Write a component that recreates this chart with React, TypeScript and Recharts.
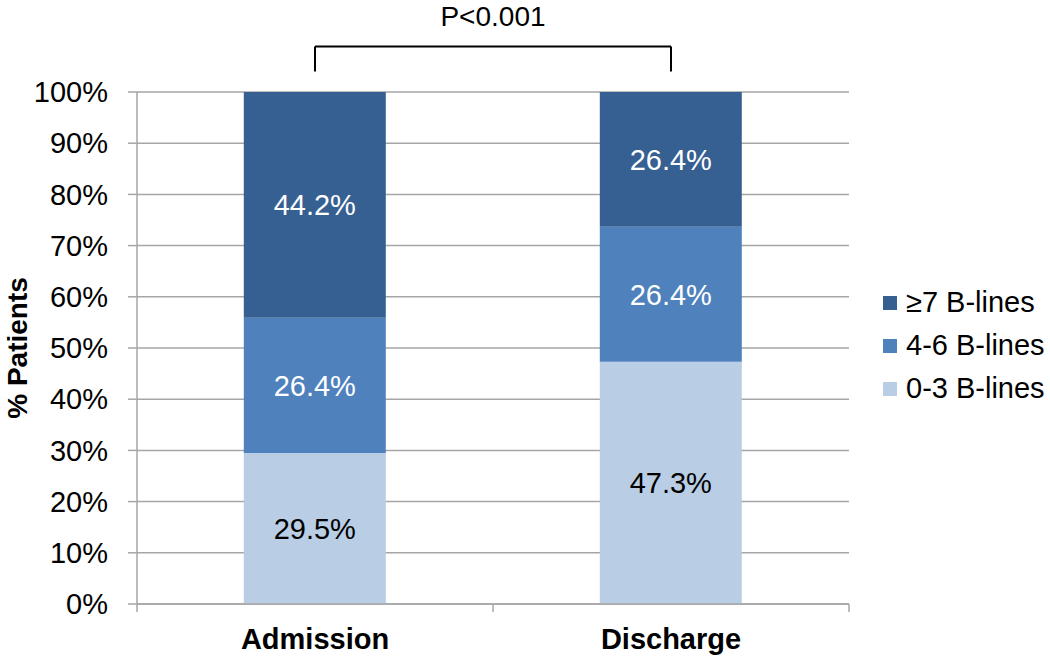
import React from 'react';
import { BarChart, Bar, XAxis, YAxis, CartesianGrid, ReferenceLine, LabelList, Label } from 'recharts';

const categories = ['Admission', 'Discharge'];
const lowValues = [29.5, 47.3];
const midValues = [26.4, 26.4];
const highValues = [44.2, 26.4];
const seriesNames = ['0-3 B-lines', '4-6 B-lines', '≥7 B-lines'];
const seriesKeys = ['low', 'mid', 'high'];
const seriesColors = ['#b9cde5', '#4f81bd', '#376092'];
const labelColors = ['#000000', '#ffffff', '#ffffff'];
const yTicks = [0, 10, 20, 30, 40, 50, 60, 70, 80, 90, 100];
const pValueText = 'P<0.001';
// bracket heights in axis units (drawn above the 100% line)
const bracketTop = 108.9;
const bracketFoot = 104;

const data = categories.map((name, i) => ({
  name,
  low: lowValues[i],
  mid: midValues[i],
  high: highValues[i],
}));

const W = 1050;
const H = 657;
const MARGIN = { top: 92, right: 201, bottom: 0, left: 0 };
const Y_AXIS_W = 137;
const X_AXIS_H = 53;
const FONT = '"Liberation Sans", Arial, sans-serif';
const GRID = '#a6a6a6';
const BAND = (W - MARGIN.left - MARGIN.right - Y_AXIS_W) / categories.length;

const XTick = (props: any) => {
  const { x, y, payload, index } = props;
  const half = BAND / 2;
  return (
    <g>
      <line x1={x - half} y1={y} x2={x - half} y2={y + 8} stroke={GRID} strokeWidth={1.5} />
      {index === categories.length - 1 && (
        <line x1={x + half} y1={y} x2={x + half} y2={y + 8} stroke={GRID} strokeWidth={1.5} />
      )}
      <text x={x} y={y + 45} textAnchor="middle" fontSize={29} fontWeight="bold" fill="#000" fontFamily={FONT}>
        {payload.value}
      </text>
    </g>
  );
};

const YLabel = (props: any) => {
  const { viewBox } = props;
  const cx = 17;
  const cy = viewBox.y + viewBox.height / 2;
  return (
    <text
      x={cx}
      y={cy}
      transform={`rotate(-90, ${cx}, ${cy})`}
      textAnchor="middle"
      dominantBaseline="central"
      fontSize={28}
      fontWeight="bold"
      fill="#000"
      fontFamily={FONT}
    >
      % Patients
    </text>
  );
};

export default function App() {
  const legendOrder = [2, 1, 0];
  return (
    <div style={{ position: 'absolute', left: 0, top: 0, width: W, height: H, background: '#fff', fontFamily: FONT }}>
      <BarChart width={W} height={H} data={data} margin={MARGIN} barCategoryGap="30%">
        <CartesianGrid vertical={false} stroke={GRID} strokeWidth={1.5} />
        <XAxis
          dataKey="name"
          height={X_AXIS_H}
          tickSize={0}
          tickMargin={0}
          tickLine={false}
          axisLine={{ stroke: GRID, strokeWidth: 1.5 }}
          tick={<XTick />}
          interval={0}
        />
        <YAxis
          width={Y_AXIS_W}
          domain={[0, 100]}
          ticks={yTicks}
          allowDataOverflow
          tickSize={9}
          tickMargin={20}
          tickFormatter={(v) => `${v}%`}
          tick={{ fontSize: 29, fill: '#000', fontFamily: FONT }}
          tickLine={{ stroke: GRID, strokeWidth: 1.5 }}
          axisLine={{ stroke: GRID, strokeWidth: 1.5 }}
        >
          <Label content={<YLabel />} />
        </YAxis>
        {seriesKeys.map((key, i) => (
          <Bar key={key} dataKey={key} name={seriesNames[i]} stackId="a" fill={seriesColors[i]} isAnimationActive={false}>
            <LabelList
              dataKey={key}
              position="center"
              formatter={(v: any) => `${Number(v).toFixed(1)}%`}
              fill={labelColors[i]}
              fontSize={29}
              fontFamily={FONT}
            />
          </Bar>
        ))}
        <ReferenceLine
          segment={[{ x: categories[0], y: bracketTop }, { x: categories[1], y: bracketTop }]}
          stroke="#000"
          strokeWidth={2}
          ifOverflow="visible"
          label={{ value: pValueText, position: 'top', offset: 20, fill: '#000', fontSize: 28, fontFamily: FONT }}
        />
        <ReferenceLine
          segment={[{ x: categories[0], y: bracketFoot }, { x: categories[0], y: bracketTop }]}
          stroke="#000"
          strokeWidth={2}
          ifOverflow="visible"
        />
        <ReferenceLine
          segment={[{ x: categories[1], y: bracketFoot }, { x: categories[1], y: bracketTop }]}
          stroke="#000"
          strokeWidth={2}
          ifOverflow="visible"
        />
      </BarChart>
      <div style={{ position: 'absolute', left: 883, top: 281 }}>
        {legendOrder.map((i) => (
          <div key={seriesKeys[i]} style={{ display: 'flex', alignItems: 'center', height: 43 }}>
            <span style={{ width: 14, height: 14, background: seriesColors[i], marginRight: 9, display: 'inline-block' }} />
            <span style={{ fontSize: 29, color: '#000', lineHeight: '43px', whiteSpace: 'nowrap' }}>{seriesNames[i]}</span>
          </div>
        ))}
      </div>
    </div>
  );
}
